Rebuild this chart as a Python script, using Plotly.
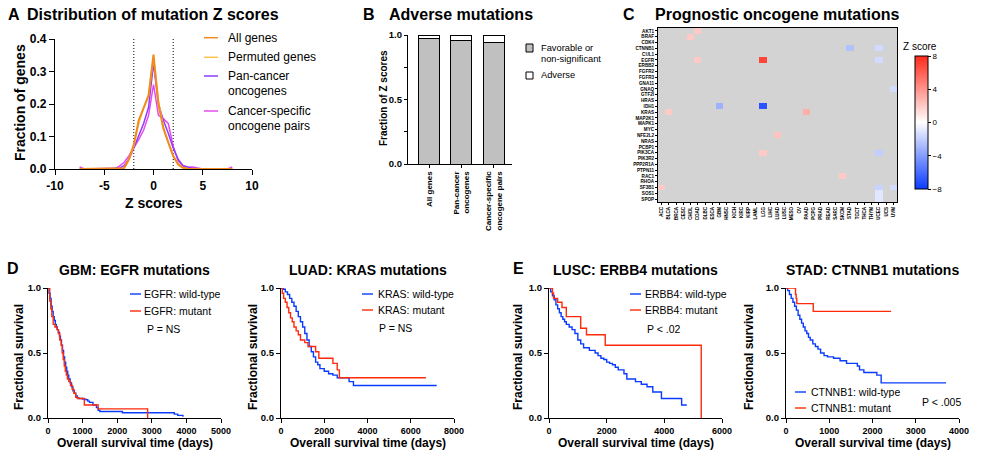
import plotly.graph_objects as go

W, H = 983, 461
FONT = "Arial, Liberation Sans, sans-serif"

# ---------------- Panel A data ----------------
z_bins = [-7.5, -7, -6.5, -6, -5.5, -5, -4.5, -4, -3.5, -3, -2.5, -2, -1.5, -1, -0.5, 0,
          0.5, 1, 1.5, 2, 2.5, 3, 3.5, 4, 4.5, 5, 5.5, 6, 6.5, 7, 7.5, 8]
all_genes = [0, 0, 0, 0, 0, 0, 0, 0, 0, 0.002, 0.03, 0.075, 0.15, 0.19, 0.225, 0.352,
             0.2, 0.125, 0.08, 0.04, 0.015, 0.004, 0.001, 0, 0, 0, 0, 0, 0, 0, 0, 0]
permuted_genes = [0, 0, 0, 0, 0, 0, 0, 0, 0, 0.001, 0.028, 0.07, 0.14, 0.19, 0.23, 0.345,
                  0.21, 0.13, 0.08, 0.04, 0.012, 0.003, 0.001, 0, 0, 0, 0, 0, 0, 0, 0, 0]
pan_cancer = [0, 0, 0, 0, 0, 0, 0, 0, 0.002, 0.01, 0.03, 0.065, 0.1, 0.14, 0.19, 0.325,
              0.2, 0.15, 0.11, 0.065, 0.03, 0.01, 0.005, 0.002, 0, 0, 0, 0, 0, 0, 0, 0]
cancer_specific = [0.006, 0, 0, 0, 0, 0, 0, 0, 0.008, 0.02, 0.04, 0.065, 0.09, 0.12, 0.165, 0.26,
                   0.165, 0.155, 0.14, 0.07, 0.025, 0.01, 0.006, 0.006, 0.002, 0, 0, 0, 0, 0, 0, 0.006]
z_thresholds = [-2, 2]
a_labels = ["All genes", "Permuted genes", "Pan-cancer<br>oncogenes", "Cancer-specific<br>oncogene pairs"]
a_colors = ["#F28A1E", "#FFC24F", "#8E3CFF", "#E44CF0"]

# ---------------- Panel B data ----------------
b_categories = ["All genes", "Pan-cancer<br>oncogenes", "Cancer-specific<br>oncogene pairs"]
b_favorable = [0.97, 0.955, 0.945]
b_adverse = [0.03, 0.045, 0.055]

# ---------------- Panel C data ----------------
genes = ["AKT1", "BRAF", "CDK4", "CTNNB1", "CUL1", "EGFR", "ERBB2", "FGFR2", "FGFR3", "GNA11",
         "GNAQ", "GTF2I", "HRAS", "IDH1", "KRAS", "MAP2K1", "MAPK1", "MYC", "NFE2L2", "NRAS",
         "PCBP1", "PIK3CA", "PIK3R2", "PPP2R1A", "PTPN11", "RAC1", "RHOA", "SF3B1", "SOS1", "SPOP"]
cancers = ["ACC", "BLCA", "BRCA", "CESC", "CHOL", "COAD", "DLBC", "ESCA", "GBM", "HNSC", "KICH",
           "KIRC", "KIRP", "LAML", "LGG", "LIHC", "LUAD", "LUSC", "MESO", "OV", "PAAD", "PCPG",
           "PRAD", "READ", "SARC", "SKCM", "STAD", "TGCT", "THCA", "THYM", "UCEC", "UCS", "UVM"]
sig_genes = ["AKT1", "BRAF", "CTNNB1", "CTNNB1", "EGFR", "EGFR", "EGFR", "GNAQ", "IDH1", "IDH1",
             "KRAS", "KRAS", "NFE2L2", "PIK3CA", "PIK3CA", "RAC1", "SF3B1", "SF3B1", "SF3B1",
             "SOS1", "SPOP"]
sig_cancers = ["COAD", "CHOL", "STAD", "UCEC", "COAD", "LGG", "UCEC", "UVM", "GBM", "LGG",
               "BLCA", "PAAD", "LUAD", "LGG", "UCEC", "SKCM", "ACC", "UCEC", "UVM",
               "UCEC", "UCEC"]
sig_z = [2.0, 2.0, -2.5, -1.5, 2.0, 7.0, -1.5, -1.5, -3.2, -7.0,
         2.0, 3.0, 2.2, 2.0, -2.0, 2.0, 2.0, -1.8, -1.5,
         -1.0, -1.0]
cbar_ticks = [-8, -4, 0, 4, 8]

# ---------------- Panels D/E data (Kaplan-Meier) ----------------
gbm_wt_t = [0, 30, 60, 90, 120, 150, 180, 210, 240, 270, 300, 330, 360, 390, 420, 450, 480, 510, 540, 570,
            600, 640, 680, 720, 760, 800, 850, 900, 1000, 1100, 1150, 1200, 1300, 1400, 1450, 1500, 2150,
            3650, 3750, 3900]
gbm_wt_s = [1.0, 0.96, 0.92, 0.86, 0.82, 0.78, 0.75, 0.72, 0.7, 0.68, 0.66, 0.63, 0.6, 0.56, 0.52, 0.47,
            0.43, 0.39, 0.36, 0.33, 0.3, 0.27, 0.24, 0.21, 0.19, 0.17, 0.155, 0.15, 0.145, 0.14, 0.13,
            0.12, 0.1, 0.08, 0.06, 0.05, 0.04, 0.03, 0.02, 0.01]
gbm_mut_t = [0, 50, 80, 110, 150, 200, 260, 300, 340, 380, 410, 440, 470, 500, 530, 560, 600, 650, 700,
             750, 800, 850, 1050, 1450, 2880]
gbm_mut_s = [1.0, 0.9, 0.84, 0.78, 0.72, 0.7, 0.68, 0.65, 0.6, 0.56, 0.5, 0.45, 0.4, 0.36, 0.33, 0.3,
             0.28, 0.25, 0.22, 0.19, 0.16, 0.15, 0.1, 0.07, 0.0]

luad_wt_t = [0, 100, 200, 300, 400, 500, 600, 700, 800, 900, 1000, 1100, 1200, 1300, 1400, 1500, 1600,
             1700, 1800, 2000, 2200, 2400, 2600, 3150, 3350, 7200]
luad_wt_s = [1.0, 0.99, 0.97, 0.95, 0.92, 0.89, 0.86, 0.82, 0.78, 0.74, 0.7, 0.65, 0.6, 0.55, 0.51, 0.47,
             0.43, 0.41, 0.38, 0.36, 0.34, 0.33, 0.31, 0.28, 0.25, 0.25]
luad_mut_t = [0, 60, 120, 200, 280, 360, 440, 520, 600, 700, 800, 900, 1100, 1250, 1600, 1750, 2400,
              2600, 2700, 6700]
luad_mut_s = [1.0, 0.96, 0.92, 0.89, 0.85, 0.81, 0.77, 0.74, 0.7, 0.67, 0.64, 0.6, 0.58, 0.55, 0.51,
              0.46, 0.42, 0.37, 0.31, 0.31]

lusc_wt_t = [0, 60, 120, 180, 240, 300, 360, 420, 480, 540, 600, 700, 800, 900, 1000, 1100, 1200, 1400,
             1600, 1700, 1800, 1900, 2000, 2100, 2200, 2300, 2400, 2600, 2700, 3000, 3200, 3400, 3600,
             3900, 4600, 4780]
lusc_wt_s = [1.0, 0.97, 0.94, 0.91, 0.87, 0.84, 0.81, 0.78, 0.76, 0.74, 0.72, 0.7, 0.68, 0.65, 0.6, 0.57,
             0.54, 0.52, 0.5, 0.48, 0.46, 0.45, 0.43, 0.42, 0.41, 0.39, 0.37, 0.34, 0.3, 0.28, 0.26, 0.24,
             0.2, 0.15, 0.1, 0.1]
lusc_mut_t = [0, 120, 160, 300, 450, 600, 1100, 1300, 1950, 5280]
lusc_mut_s = [1.0, 0.96, 0.92, 0.89, 0.85, 0.78, 0.69, 0.64, 0.56, 0.0]

stad_wt_t = [0, 40, 80, 120, 160, 200, 240, 280, 320, 360, 400, 440, 480, 520, 560, 620, 680, 740, 800,
             880, 960, 1100, 1250, 1400, 1650, 1700, 1800, 2100, 2200, 3700]
stad_wt_s = [1.0, 0.98, 0.95, 0.92, 0.89, 0.86, 0.83, 0.79, 0.76, 0.73, 0.7, 0.67, 0.65, 0.62, 0.6, 0.57,
             0.55, 0.53, 0.5, 0.48, 0.47, 0.46, 0.44, 0.42, 0.4, 0.37, 0.35, 0.33, 0.27, 0.27]
stad_mut_t = [0, 220, 235, 250, 630, 2430]
stad_mut_s = [1.0, 0.95, 0.92, 0.88, 0.82, 0.82]

km_panels = [
    dict(title="GBM: EGFR mutations", gene="EGFR", wt=(gbm_wt_t, gbm_wt_s), mut=(gbm_mut_t, gbm_mut_s),
         xmax=5000, dtick=1000, p="P = NS"),
    dict(title="LUAD: KRAS mutations", gene="KRAS", wt=(luad_wt_t, luad_wt_s), mut=(luad_mut_t, luad_mut_s),
         xmax=8000, dtick=2000, p="P = NS"),
    dict(title="LUSC: ERBB4 mutations", gene="ERBB4", wt=(lusc_wt_t, lusc_wt_s), mut=(lusc_mut_t, lusc_mut_s),
         xmax=6000, dtick=2000, p="P < .02"),
    dict(title="STAD: CTNNB1 mutations", gene="CTNNB1", wt=(stad_wt_t, stad_wt_s), mut=(stad_mut_t, stad_mut_s),
         xmax=4000, dtick=1000, p="P < .005"),
]
KM_BLUE = "#0A3CFF"
KM_RED = "#FF2A0A"

# ---------------- helpers ----------------
def fx(px):
    return px / W

def fy(py):
    return 1 - py / H

annotations = []
shapes = []

def ann(text, x, y, size, bold=False, xanchor="center", yanchor="middle", angle=0):
    annotations.append(dict(
        text=("<b>%s</b>" % text) if bold else text, x=fx(x), y=fy(y), xref="paper", yref="paper",
        showarrow=False, xanchor=xanchor, yanchor=yanchor, textangle=angle,
        font=dict(family=FONT, size=size, color="black"), borderpad=0))

def hline(x0, x1, y, color, width=1.5):
    shapes.append(dict(type="line", xref="paper", yref="paper", x0=fx(x0), x1=fx(x1), y0=fy(y), y1=fy(y),
                       line=dict(color=color, width=width)))

def axis_common(**kw):
    d = dict(showline=True, linecolor="black", linewidth=1.3, ticks="outside", ticklen=4, tickwidth=1.2,
             tickcolor="black", showgrid=False, zeroline=False, automargin=False,
             tickfont=dict(family=FONT, size=10, color="black", weight="bold"))
    d.update(kw)
    return d

fig = go.Figure()
layout = dict(template="none", width=W, height=H, margin=dict(l=0, r=0, t=0, b=0, pad=0),
              paper_bgcolor="white", plot_bgcolor="rgba(0,0,0,0)", showlegend=False, barmode="stack",
              font=dict(family=FONT, color="black"))

# ---------------- Panel A ----------------
for zt in z_thresholds:
    fig.add_trace(go.Scatter(x=[zt, zt], y=[0, 0.4], mode="lines", xaxis="x", yaxis="y",
                             line=dict(color="black", width=1, dash="1px,2px"), hoverinfo="skip"))
a_series = [all_genes, permuted_genes, pan_cancer, cancer_specific]
for idx in [3, 2, 1, 0]:
    fig.add_trace(go.Scatter(x=z_bins, y=a_series[idx], mode="lines", xaxis="x", yaxis="y",
                             line=dict(color=a_colors[idx], width=2 if idx == 0 else 1.5), cliponaxis=False))
layout["xaxis"] = axis_common(domain=[fx(55), fx(252)], range=[-10, 10], tickvals=[-10, -5, 0, 5, 10],
                              ticktext=["-10", "-5", "0", "5", "10"], anchor="y", ticklen=5,
                              tickfont=dict(family=FONT, size=12, color="black", weight="bold"))
layout["yaxis"] = axis_common(domain=[fy(169), fy(39)], range=[0, 0.4], tickvals=[0, 0.1, 0.2, 0.3, 0.4],
                              tickformat=".1f", anchor="x", ticklen=5,
                              tickfont=dict(family=FONT, size=12, color="black", weight="bold"))
ann("A", 7, 15, 16, bold=True, xanchor="left")
ann("Distribution of mutation Z scores", 153, 15, 16, bold=True)
ann("Z scores", 154, 203, 14, bold=True)
ann("Fraction of genes", 20, 103, 14, bold=True, angle=-90)
a_leg_y = [37.7, 57.3, 76, 111]
for i, lab in enumerate(a_labels):
    hline(204, 218, a_leg_y[i], a_colors[i], 1.5)
    for j, line in enumerate(lab.split("<br>")):
        ann(line, 227, a_leg_y[i] + j * 14.7, 12, xanchor="left")

# ---------------- Panel B ----------------
b_x = list(range(len(b_categories)))
fig.add_trace(go.Bar(x=b_x, y=b_favorable, xaxis="x2", yaxis="y2", width=0.65,
                     marker=dict(color="#C0C0C0", line=dict(color="black", width=1))))
fig.add_trace(go.Bar(x=b_x, y=b_adverse, xaxis="x2", yaxis="y2", width=0.65,
                     marker=dict(color="white", line=dict(color="black", width=1))))
layout["xaxis2"] = axis_common(domain=[fx(408), fx(512)], range=[-0.65, 2.56], tickvals=b_x,
                               ticktext=b_categories, tickangle=-90, anchor="y2", ticklen=3,
                               tickfont=dict(family=FONT, size=8, color="black", weight="bold"))
layout["yaxis2"] = axis_common(domain=[fy(164), fy(35)], range=[0, 1.0], tickvals=[0, 0.5, 1.0],
                               tickformat=".1f", anchor="x2", ticklen=3,
                               tickfont=dict(family=FONT, size=9.5, color="black", weight="bold"),
                               minor=dict(tickvals=[0.25, 0.75], ticks="outside", ticklen=3, tickcolor="black"))
ann("B", 362, 15, 16, bold=True, xanchor="left")
ann("Adverse mutations", 461, 15, 16, bold=True)
ann("Fraction of Z scores", 383, 98, 10, bold=True, angle=-90)
shapes.append(dict(type="rect", xref="paper", yref="paper", x0=fx(526), x1=fx(533), y0=fy(52), y1=fy(44),
                   fillcolor="#C0C0C0", line=dict(color="black", width=1)))
shapes.append(dict(type="rect", xref="paper", yref="paper", x0=fx(526), x1=fx(533), y0=fy(79), y1=fy(72),
                   fillcolor="white", line=dict(color="black", width=1)))
ann("Favorable or", 540, 48, 9.3, xanchor="left")
ann("non-significant", 540, 59, 9.3, xanchor="left")
ann("Adverse", 540, 75.5, 9.3, xanchor="left")

# ---------------- Panel C ----------------
zmat = [[None for _ in cancers] for _ in genes]
for g, c, v in zip(sig_genes, sig_cancers, sig_z):
    zmat[genes.index(g)][cancers.index(c)] = v
fig.add_trace(go.Heatmap(
    z=zmat, x=list(range(len(cancers))), y=list(range(len(genes))), xaxis="x3", yaxis="y3",
    zmin=-8, zmax=8, hoverongaps=False,
    colorscale=[[0, "#0A3CFF"], [0.5, "#FFFFFF"], [1, "#FF2A1A"]],
    colorbar=dict(x=fx(915), xanchor="left", xpad=0, ypad=0, y=fy(122.5), yanchor="middle",
                  len=133 / H, lenmode="fraction", thickness=13, thicknessmode="pixels",
                  outlinecolor="black", outlinewidth=1, tickvals=cbar_ticks, ticks="outside",
                  ticklen=3, tickcolor="black", tickfont=dict(family=FONT, size=8, color="black"))))
shapes.append(dict(type="rect", xref="x3 domain", yref="y3 domain", x0=0, x1=1, y0=0, y1=1,
                   fillcolor="#D3D3D3", line=dict(width=0), layer="below"))
tick_small = dict(family=FONT, size=4.6, color="black", weight="bold")
layout["xaxis3"] = dict(domain=[fx(658), fx(897)], range=[-0.5, len(cancers) - 0.5], anchor="y3",
                        tickvals=list(range(len(cancers))), ticktext=cancers, tickangle=-90,
                        showline=True, linecolor="black", linewidth=1, mirror=True, ticks="outside",
                        ticklen=2, tickwidth=0.7, tickcolor="black", showgrid=False, zeroline=False,
                        automargin=False, tickfont=tick_small)
layout["yaxis3"] = dict(domain=[fy(202), fy(28)], range=[len(genes) - 0.5, -0.5], anchor="x3",
                        tickvals=list(range(len(genes))), ticktext=genes,
                        showline=True, linecolor="black", linewidth=1, mirror=True, ticks="outside",
                        ticklen=2, tickwidth=0.7, tickcolor="black", showgrid=False, zeroline=False,
                        automargin=False, tickfont=tick_small)
ann("C", 622, 15, 16, bold=True, xanchor="left")
ann("Prognostic oncogene mutations", 777, 15, 16, bold=True)
ann("Z score", 920, 46, 10)

# ---------------- Panels D/E ----------------
km_x = [(48, 221), (281, 454), (549, 722), (786, 959)]
km_ytitle_x = [19, 253, 518, 749]
km_leg = [dict(lx=130, tx=143, y1=294, y2=311, px=146, py=329),
          dict(lx=362, tx=377, y1=294, y2=310, px=378, py=328),
          dict(lx=630, tx=644, y1=294, y2=310, px=646, py=329),
          dict(lx=795, tx=810, y1=392, y2=408, px=921, py=402)]
for k, pnl in enumerate(km_panels):
    xa = "x%d" % (k + 4)
    ya = "y%d" % (k + 4)
    fig.add_trace(go.Scatter(x=pnl["wt"][0], y=pnl["wt"][1], mode="lines", line_shape="hv",
                             xaxis=xa, yaxis=ya, line=dict(color=KM_BLUE, width=1.4), cliponaxis=False))
    fig.add_trace(go.Scatter(x=pnl["mut"][0], y=pnl["mut"][1], mode="lines", line_shape="hv",
                             xaxis=xa, yaxis=ya, line=dict(color=KM_RED, width=1.4), cliponaxis=False))
    x0, x1 = km_x[k]
    layout["xaxis%d" % (k + 4)] = axis_common(domain=[fx(x0), fx(x1)], range=[0, pnl["xmax"]],
                                              dtick=pnl["dtick"], tick0=0, anchor=ya, ticklen=4,
                                              tickfont=dict(family=FONT, size=9, color="black", weight="bold"))
    layout["yaxis%d" % (k + 4)] = axis_common(domain=[fy(418), fy(288)], range=[0, 1.0],
                                              tickvals=[0, 0.5, 1.0], tickformat=".1f", anchor=xa, ticklen=4,
                                              tickfont=dict(family=FONT, size=9.5, color="black", weight="bold"))
    ann(pnl["title"], (x0 + x1) / 2, 270, 14, bold=True)
    ann("Overall survival time (days)", (x0 + x1) / 2, 443, 12, bold=True)
    ann("Fractional survival", km_ytitle_x[k], 357, 12, bold=True, angle=-90)
    lg = km_leg[k]
    hline(lg["lx"], lg["lx"] + 11, lg["y1"], KM_BLUE, 1.4)
    hline(lg["lx"], lg["lx"] + 11, lg["y2"], KM_RED, 1.4)
    ann(pnl["gene"] + ": wild-type", lg["tx"], lg["y1"], 10.5, xanchor="left")
    ann(pnl["gene"] + ": mutant", lg["tx"], lg["y2"], 10.5, xanchor="left")
    ann(pnl["p"], lg["px"], lg["py"], 10.5, xanchor="left")
ann("D", 6, 268, 16, bold=True, xanchor="left")
ann("E", 512, 268, 16, bold=True, xanchor="left")

layout["annotations"] = annotations
layout["shapes"] = shapes
fig.update_layout(**layout)
fig.write_html("out.html", config={"displayModeBar": False},
               post_script="document.body.style.margin='0';document.body.style.padding='0';")
